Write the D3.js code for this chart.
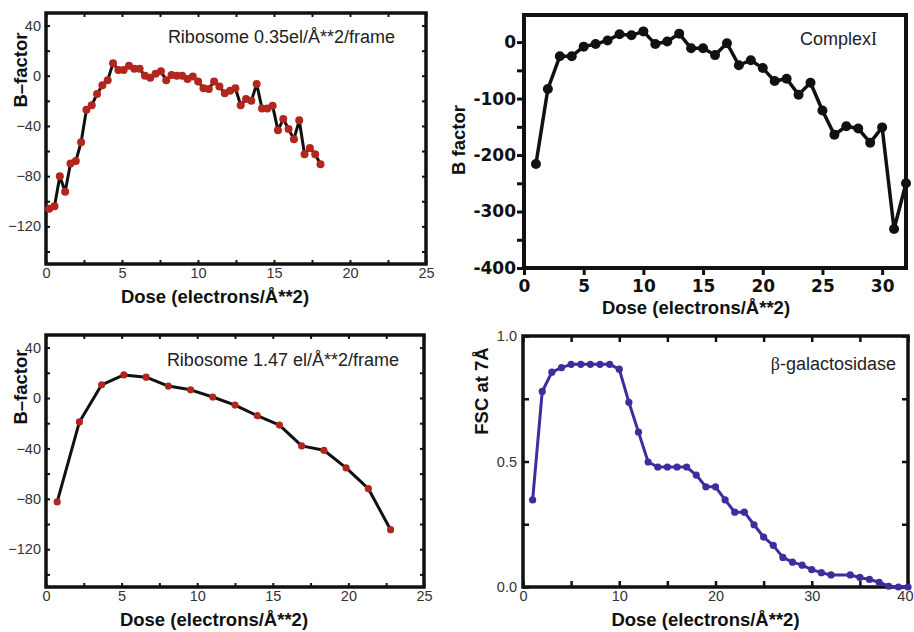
<!DOCTYPE html>
<meta charset="utf-8">
<style>
    html,
    body {
        margin: 0;
        padding: 0;
        background: #fff;
    }

    svg {
        display: block;
        font-family: "Liberation Sans", Arial, sans-serif;
    }
</style>
<body>
<svg id="chart" width="914" height="632"></svg>
<script src="https://d3js.org/d3.v7.min.js"></script>
<script>
    // ---- data ----

    // Ribosome 0.35 el/A^2/frame
    const ribo035Dose = [0.21, 0.56, 0.91, 1.26, 1.61, 1.96, 2.31, 2.66, 3.01, 3.36,
        3.71, 4.06, 4.41, 4.76, 5.11, 5.46, 5.81, 6.16, 6.51, 6.86,
        7.21, 7.56, 7.91, 8.26, 8.61, 8.96, 9.31, 9.66, 10.01, 10.36,
        10.71, 11.06, 11.41, 11.76, 12.11, 12.46, 12.81, 13.16, 13.51, 13.86,
        14.21, 14.56, 14.91, 15.26, 15.61, 15.96, 16.31, 16.66, 17.01, 17.36,
        17.71, 18.06];
    const ribo035B = [-106, -104, -80, -92.5, -70, -68, -53, -27, -23.5, -14.5,
        -7.5, -3.5, 10, 4.5, 4.5, 8, 5.5, 5.5, 0, -1.5,
        1.5, 3.5, -3.5, 0.5, 0, 0, -2.5, -0.5, -4.5, -10,
        -10.5, -4.5, -8.5, -14, -12, -10, -23.5, -18.5, -20, -6.5,
        -26, -26, -24, -43.5, -34.5, -42.5, -50.5, -35.5, -62.5, -57.5,
        -62.5, -70.5];

    // Complex I
    const complexDose = [1, 2, 3, 4, 5, 6, 7, 8, 9, 10, 11, 12, 13, 14, 15, 16,
        17, 18, 19, 20, 21, 22, 23, 24, 25, 26, 27, 28, 29, 30, 31, 32];
    const complexB = [-216, -83, -25, -25, -8, -3.5, 3, 14, 12, 19, -3.5, 1, 15, -11, -11, -23,
        -2, -41, -32, -46, -69, -65, -93, -72, -121, -164, -149, -153, -178, -151, -331, -250];

    // Ribosome 1.47 el/A^2/frame
    const ribo147Dose = [0.74, 2.21, 3.68, 5.15, 6.62, 8.09, 9.56, 11.03,
        12.50, 13.97, 15.44, 16.91, 18.38, 19.85, 21.32, 22.79];
    const ribo147B = [-82.5, -19, 10.5, 18.3, 16.5, 9.5, 6.5, 0.8,
        -5.6, -14, -21.5, -38, -41.5, -55.5, -72, -104.5];

    // beta-galactosidase
    const galDose = [1, 2, 3, 4, 5, 6, 7, 8, 9, 10, 11, 12, 13, 14, 15, 16, 17, 18, 19, 20,
        21, 22, 23, 24, 25, 26, 27, 28, 29, 30, 31, 32, 34, 35, 36, 37, 38, 39, 40];
    const galFsc = [0.347, 0.779, 0.856, 0.874, 0.887, 0.887, 0.887, 0.887, 0.887, 0.868,
        0.736, 0.617, 0.498, 0.478, 0.478, 0.478, 0.478, 0.446, 0.399, 0.399,
        0.347, 0.298, 0.298, 0.248, 0.199, 0.166, 0.118, 0.099, 0.087, 0.069,
        0.057, 0.048, 0.048, 0.038, 0.030, 0.019, 0.003, 0.0, 0.0];

    // tick values
    const riboYTicks = d3.range(-140, 41, 20);
    const riboXTicks = d3.range(0, 25.1, 2.5);
    const complexYTicks = d3.range(-400, 1, 50);
    const complexXTicks = [0, 5, 10, 15, 20, 25, 30];
    const galYTicks = [0, 0.25, 0.5, 0.75, 1];
    const galXTicks = d3.range(0, 41, 5);

    const doseLabel = "Dose (electrons/Å**2)";

    const W = 914;
    const svg = d3.select("#chart");

    function drawPanel(p) {
        const g = svg.append("g");

        const x = d3.scaleLinear().domain(p.xDomain).range([p.left, p.right]);
        const y = d3.scaleLinear().domain(p.yDomain).range([p.bottom, p.top]);

        const ts = p.inward ? -p.tickLen : p.tickLen;

        function styleAxis(sel) {
            sel.select(".domain").remove();
            sel.selectAll(".tick line")
                .attr("stroke", "#111")
                .attr("stroke-width", p.tickWidth);
            sel.selectAll(".tick text")
                .attr("fill", p.tickColor)
                .style("font-family", p.tickFont)
                .style("font-size", p.tickSize + "px")
                .style("font-weight", p.tickWeight);
        }

        // bottom + left with labels
        const xAxisG = g.append("g")
            .attr("transform", `translate(0,${p.bottom})`)
            .call(d3.axisBottom(x).tickValues(p.xTicks).tickSize(ts)
                .tickPadding(p.xPad).tickFormat(p.xFormat))
            .call(styleAxis);

        // keep the last label inside the page
        xAxisG.selectAll(".tick text").each(function (d) {
            const b = this.getBBox();
            const right = x(d) + b.x + b.width;
            if (right > W - 1) d3.select(this).attr("dx", (W - 1 - right) + "px");
        });

        g.append("g")
            .attr("transform", `translate(${p.left},0)`)
            .call(d3.axisLeft(y).tickValues(p.yTicks).tickSize(ts)
                .tickPadding(p.yPad).tickFormat(p.yFormat))
            .call(styleAxis);

        // mirrored ticks on top/right
        if (p.mirror) {
            g.append("g")
                .attr("transform", `translate(0,${p.top})`)
                .call(d3.axisTop(x).tickValues(p.xTicks).tickSize(ts).tickFormat(""))
                .call(styleAxis);
            g.append("g")
                .attr("transform", `translate(${p.right},0)`)
                .call(d3.axisRight(y).tickValues(p.yTicks).tickSize(ts).tickFormat(""))
                .call(styleAxis);
        }

        // frame
        g.append("rect")
            .attr("x", p.left)
            .attr("y", p.top)
            .attr("width", p.right - p.left)
            .attr("height", p.bottom - p.top)
            .attr("fill", "none")
            .attr("stroke", "#111")
            .attr("stroke-width", p.frameWidth);

        const pts = p.xs.map((v, i) => [v, p.ys[i]]);

        const line = d3.line()
            .x(d => x(d[0]))
            .y(d => y(d[1]));

        g.append("path")
            .datum(pts)
            .attr("d", line)
            .attr("fill", "none")
            .attr("stroke", p.lineColor)
            .attr("stroke-width", p.lineWidth)
            .attr("stroke-linejoin", "round");

        g.selectAll("circle.pt")
            .data(pts)
            .join("circle")
            .attr("class", "pt")
            .attr("cx", d => x(d[0]))
            .attr("cy", d => y(d[1]))
            .attr("r", p.r)
            .attr("fill", p.dotColor);

        // axis titles
        g.append("text")
            .attr("x", (p.left + p.right) / 2 + p.xLabelDx)
            .attr("y", p.xLabelY)
            .attr("text-anchor", "middle")
            .style("font-weight", "bold")
            .style("font-size", p.labelSize + "px")
            .attr("fill", "#111")
            .text(doseLabel);

        g.append("text")
            .attr("transform", `translate(${p.yLabelX},${p.yLabelY}) rotate(-90)`)
            .attr("text-anchor", "middle")
            .style("font-weight", "bold")
            .style("font-size", p.labelSize + "px")
            .attr("fill", "#111")
            .text(p.yLabel);

        // inset title
        const t = g.append("text")
            .attr("x", p.titleX)
            .attr("y", p.titleY)
            .attr("text-anchor", "end")
            .style("font-size", p.titleSize + "px")
            .attr("fill", "#222");
        p.title.forEach(part => {
            t.append("tspan")
                .style("font-family", part.font || null)
                .text(part.text);
        });
    }

    const riboCommon = {
        xDomain: [0, 25], yDomain: [-150, 50],
        xTicks: riboXTicks, yTicks: riboYTicks,
        xFormat: d => d % 5 === 0 ? d3.format("d")(d) : "",
        yFormat: d => d % 40 === 0 ? d3.format("d")(d) : "",
        inward: true, tickLen: 4, tickWidth: 2, frameWidth: 3.5, mirror: true,
        xPad: 4, yPad: 5,
        tickColor: "#333", tickFont: "'Liberation Sans', Arial, sans-serif",
        tickSize: 14.5, tickWeight: "normal",
        lineColor: "#111", lineWidth: 3, dotColor: "#b3261e",
        labelSize: 18.5, yLabel: "B–factor", titleSize: 18, xLabelDx: -21
    };

    drawPanel(Object.assign({}, riboCommon, {
        left: 46, right: 426, top: 13, bottom: 264,
        xs: ribo035Dose, ys: ribo035B, r: 4,
        xLabelY: 303, yLabelX: 27, yLabelY: 70,
        title: [{text: "Ribosome 0.35el/Å**2/frame"}], titleX: 395, titleY: 43
    }));

    drawPanel(Object.assign({}, riboCommon, {
        left: 46, right: 424, top: 335, bottom: 587,
        xs: ribo147Dose, ys: ribo147B, r: 3.6,
        xLabelY: 626, yLabelX: 27, yLabelY: 387,
        title: [{text: "Ribosome 1.47 el/Å**2/frame"}], titleX: 399, titleY: 366
    }));

    drawPanel({
        left: 524, right: 906, top: 15, bottom: 268,
        xDomain: [0, 32], yDomain: [-400, 48],
        xTicks: complexXTicks, yTicks: complexYTicks,
        xFormat: d => String(d),
        yFormat: d => d % 100 === 0 ? String(d) : "",
        inward: false, tickLen: 7, tickWidth: 3, frameWidth: 4, mirror: false,
        xPad: 5, yPad: 1,
        tickColor: "#111", tickFont: "'DejaVu Sans', sans-serif",
        tickSize: 17, tickWeight: "bold",
        xs: complexDose, ys: complexB, r: 5,
        lineColor: "#111", lineWidth: 3.5, dotColor: "#111",
        labelSize: 18.5, xLabelDx: -19, xLabelY: 314,
        yLabel: "B factor", yLabelX: 465, yLabelY: 140,
        title: [{text: "Complex"}, {text: "I", font: "'Liberation Serif', serif"}],
        titleSize: 18, titleX: 877, titleY: 45
    });

    drawPanel({
        left: 523, right: 908, top: 336, bottom: 587,
        xDomain: [0, 40], yDomain: [0, 1],
        xTicks: galXTicks, yTicks: galYTicks,
        xFormat: d => d % 10 === 0 ? String(d) : "",
        yFormat: d => (d * 2) % 1 === 0 ? d3.format(".1f")(d) : "",
        inward: true, tickLen: 6, tickWidth: 2.5, frameWidth: 3.5, mirror: true,
        xPad: 4, yPad: 6,
        tickColor: "#333", tickFont: "'Liberation Sans', Arial, sans-serif",
        tickSize: 14.5, tickWeight: "normal",
        xs: galDose, ys: galFsc, r: 3.6,
        lineColor: "#3a2f9c", lineWidth: 3, dotColor: "#3a2f9c",
        labelSize: 18.5, xLabelDx: -10, xLabelY: 626,
        yLabel: "FSC at 7Å", yLabelX: 488, yLabelY: 391,
        title: [{text: "β", font: "'Liberation Serif', serif"}, {text: "-galactosidase"}],
        titleSize: 18, titleX: 896, titleY: 370
    });
</script>
</body>
